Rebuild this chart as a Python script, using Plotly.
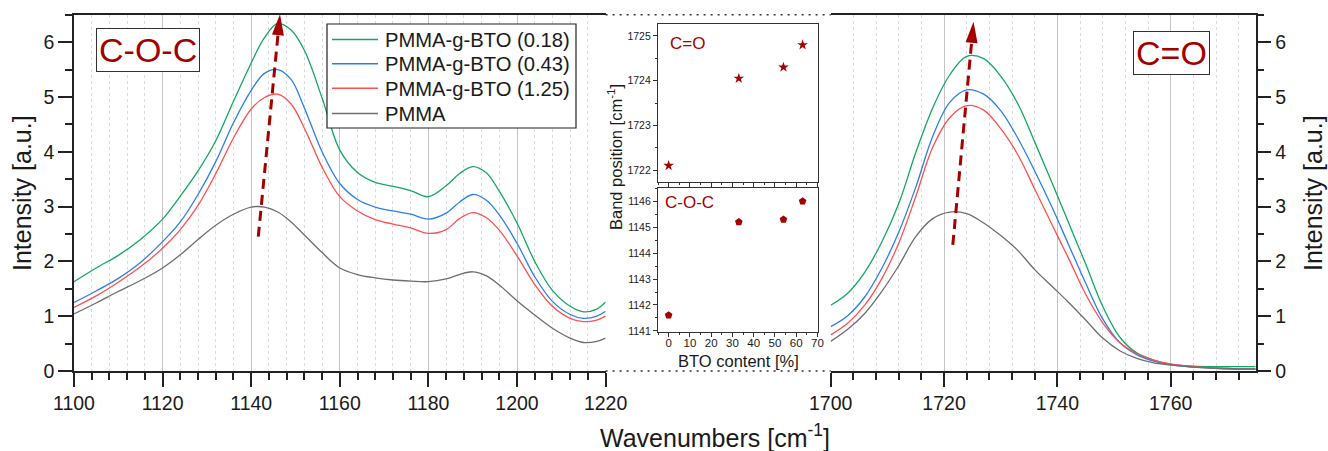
import plotly.graph_objects as go

W, H = 1328, 451
FONT = "Liberation Sans, Arial, sans-serif"
DARKRED = "#a30000"

# ---------------- data ----------------
series_names = ["PMMA-g-BTO (0.18)", "PMMA-g-BTO (0.43)", "PMMA-g-BTO (1.25)", "PMMA"]
series_colors = ["#12a863", "#2a7ff0", "#ff4f4f", "#6e6e6e"]

x_coc = [1100, 1105, 1110, 1115, 1120, 1124, 1128, 1132, 1136, 1140, 1143, 1146, 1149,
         1152, 1156, 1160, 1164, 1168, 1172, 1176, 1180, 1184, 1187, 1190, 1193, 1196,
         1200, 1204, 1208, 1212, 1215, 1218, 1220]
coc_018 = [1.63, 1.88, 2.11, 2.40, 2.77, 3.19, 3.65, 4.20, 4.92, 5.62, 6.08, 6.34, 6.22,
           5.85, 4.98, 4.03, 3.62, 3.44, 3.37, 3.29, 3.18, 3.38, 3.60, 3.73, 3.62, 3.28,
           2.70, 2.00, 1.47, 1.18, 1.08, 1.13, 1.26]
coc_043 = [1.25, 1.46, 1.69, 1.98, 2.36, 2.72, 3.22, 3.82, 4.53, 5.12, 5.43, 5.50, 5.32,
           4.80, 4.00, 3.42, 3.13, 2.99, 2.92, 2.86, 2.77, 2.88, 3.08, 3.22, 3.12, 2.85,
           2.33, 1.72, 1.27, 1.03, 0.96, 1.00, 1.09]
coc_125 = [1.16, 1.37, 1.62, 1.90, 2.24, 2.58, 3.02, 3.60, 4.25, 4.78, 4.99, 5.05, 4.87,
           4.43, 3.72, 3.18, 2.92, 2.76, 2.68, 2.61, 2.51, 2.58, 2.78, 2.89, 2.80, 2.57,
           2.10, 1.58, 1.18, 0.96, 0.90, 0.93, 1.00]
coc_pmma = [1.04, 1.24, 1.45, 1.65, 1.88, 2.12, 2.40, 2.66, 2.86, 2.99, 2.99, 2.90, 2.72,
            2.48, 2.16, 1.88, 1.76, 1.70, 1.66, 1.64, 1.63, 1.68, 1.76, 1.81, 1.74, 1.57,
            1.28, 1.02, 0.78, 0.60, 0.52, 0.54, 0.60]

x_co = [1700, 1703, 1706, 1709, 1712, 1715, 1718, 1721, 1724, 1727, 1730, 1733, 1736,
        1739, 1742, 1745, 1748, 1751, 1754, 1757, 1760, 1764, 1768, 1772, 1775]
co_018 = [1.20, 1.42, 1.80, 2.35, 3.05, 3.98, 4.80, 5.40, 5.74, 5.70, 5.38, 4.88, 4.18,
          3.45, 2.70, 1.95, 1.18, 0.62, 0.33, 0.20, 0.12, 0.09, 0.08, 0.08, 0.08]
co_043 = [0.81, 1.01, 1.35, 1.87, 2.53, 3.35, 4.28, 4.90, 5.13, 5.05, 4.75, 4.25, 3.65,
          3.00, 2.30, 1.60, 0.95, 0.52, 0.30, 0.18, 0.11, 0.07, 0.05, 0.04, 0.04]
co_125 = [0.66, 0.87, 1.20, 1.68, 2.33, 3.18, 4.08, 4.62, 4.84, 4.76, 4.42, 3.95, 3.32,
          2.68, 2.05, 1.40, 0.88, 0.52, 0.32, 0.20, 0.13, 0.08, 0.05, 0.03, 0.03]
co_pmma = [0.54, 0.76, 1.05, 1.45, 1.92, 2.45, 2.78, 2.90, 2.87, 2.70, 2.47, 2.20, 1.85,
           1.55, 1.25, 0.93, 0.60, 0.37, 0.23, 0.15, 0.11, 0.07, 0.05, 0.04, 0.04]

bto_content = [0, 33, 54, 63]
band_co = [1722.1, 1724.05, 1724.3, 1724.8]
band_coc = [1141.6, 1145.2, 1145.3, 1146.0]

# arrows (data coords: start, tip)
arrow_coc = ((1141.6, 2.45), (1146.5, 6.51))
arrow_co = ((1721.55, 2.30), (1725.2, 6.37))

# ---------------- layout geometry (pixels) ----------------
def fx(px):
    return px / W

def fy(py):
    return 1 - py / H

L_X = (74.0, 605.6)
R_X = (830.7, 1255.7)
M_Y = (14.7, 371.0)     # top, bottom pixel
IN_X = (658.0, 817.5)
IN_T = (24.3, 181.7)
IN_B = (188.3, 331.7)

L_RANGE = [1100, 1220]
R_RANGE = [1700, 1775]
Y_RANGE = [0, 6.5]

fig = go.Figure()

left_vals = [coc_018, coc_043, coc_125, coc_pmma]
right_vals = [co_018, co_043, co_125, co_pmma]
for name, col, lv, rv in zip(series_names, series_colors, left_vals, right_vals):
    fig.add_trace(go.Scatter(x=x_coc, y=lv, mode="lines", name=name, legendgroup=name,
                             showlegend=False,
                             line=dict(color=col, width=1.3, shape="spline", smoothing=1.0),
                             xaxis="x", yaxis="y"))
    fig.add_trace(go.Scatter(x=x_co, y=rv, mode="lines", name=name, legendgroup=name,
                             showlegend=False,
                             line=dict(color=col, width=1.3, shape="spline", smoothing=1.0),
                             xaxis="x2", yaxis="y2"))

fig.add_trace(go.Scatter(x=bto_content, y=band_co, mode="markers", showlegend=False,
                         marker=dict(symbol="star", size=8, color=DARKRED),
                         xaxis="x3", yaxis="y3"))
fig.add_trace(go.Scatter(x=bto_content, y=band_coc, mode="markers", showlegend=False,
                         marker=dict(symbol="pentagon", size=8, color=DARKRED),
                         xaxis="x4", yaxis="y4"))

axis_common = dict(showline=True, linecolor="#222", linewidth=1.5, zeroline=False,
                   automargin=False,
                   ticks="outside", tickcolor="#222", tickwidth=1.5,
                   tickfont=dict(size=19.5, color="#1a1a1a", family=FONT))

def main_x(dom, rng):
    return dict(axis_common, domain=[fx(dom[0]), fx(dom[1])], range=rng, dtick=20, tick0=rng[0],
                ticklen=14, mirror=True, showgrid=True, gridcolor="#c4c4c4", gridwidth=1.2,
                minor=dict(dtick=4, tick0=rng[0], ticks="outside", ticklen=7, tickwidth=1.5,
                           tickcolor="#222", showgrid=True, gridcolor="#dcdcdc",
                           griddash="3px,3px", gridwidth=1))

def main_y(anchor, side):
    return dict(axis_common, domain=[fy(M_Y[1]), fy(M_Y[0])], range=Y_RANGE, dtick=1, tick0=0,
                ticklen=14, showgrid=False, anchor=anchor, side=side,
                minor=dict(dtick=0.5, ticks="outside", ticklen=7, tickwidth=1.5, tickcolor="#222",
                           showgrid=False))

inset_common = dict(showline=True, linecolor="#333", linewidth=1.2, mirror=True, zeroline=False,
                    automargin=False,
                    showgrid=False, ticks="outside", ticklen=4, tickwidth=1, tickcolor="#333")

fig.update_layout(
    width=W, height=H, margin=dict(l=0, r=0, t=0, b=0, autoexpand=False),
    paper_bgcolor="white", plot_bgcolor="rgba(0,0,0,0)",
    font=dict(family=FONT, color="#1a1a1a"),
    showlegend=False,
    xaxis=dict(main_x(L_X, L_RANGE), anchor="y"),
    yaxis=main_y("x", "left"),
    xaxis2=dict(main_x(R_X, R_RANGE), anchor="y2"),
    yaxis2=main_y("x2", "right"),
    xaxis3=dict(inset_common, domain=[fx(IN_X[0]), fx(IN_X[1])], anchor="y3", range=[-5, 70],
                dtick=10, tick0=0, showticklabels=False,
                minor=dict(dtick=5, ticks="outside", ticklen=2, tickcolor="#333")),
    yaxis3=dict(inset_common, domain=[fy(IN_T[1]), fy(IN_T[0])], anchor="x3",
                range=[1721.74, 1725.26], dtick=1, tick0=1722,
                tickfont=dict(size=10.5, color="#1a1a1a"),
                minor=dict(dtick=0.5, ticks="outside", ticklen=2, tickcolor="#333")),
    xaxis4=dict(inset_common, domain=[fx(IN_X[0]), fx(IN_X[1])], anchor="y4", range=[-5, 70],
                dtick=10, tick0=0, tickfont=dict(size=11.5, color="#1a1a1a"),
                ticklabelstandoff=-4,
                minor=dict(dtick=5, ticks="outside", ticklen=2, tickcolor="#333")),
    yaxis4=dict(inset_common, domain=[fy(IN_B[1]), fy(IN_B[0])], anchor="x4",
                range=[1140.97, 1146.5], dtick=1, tick0=1141,
                tickfont=dict(size=10.5, color="#1a1a1a"),
                minor=dict(dtick=0.5, ticks="outside", ticklen=2, tickcolor="#333")),
)

# dotted frame in gap
for py in (M_Y[0], M_Y[1]):
    fig.add_shape(type="line", xref="paper", yref="paper", x0=fx(L_X[1]), x1=fx(R_X[0]),
                  y0=fy(py), y1=fy(py), line=dict(color="#333", width=1.5, dash="2px,5px"))

# arrows
def to_px(xv, yv, xdom, xr):
    px = xdom[0] + (xv - xr[0]) / (xr[1] - xr[0]) * (xdom[1] - xdom[0])
    py = M_Y[1] - (yv - Y_RANGE[0]) / (Y_RANGE[1] - Y_RANGE[0]) * (M_Y[1] - M_Y[0])
    return px, py

def add_arrow(arrow, xdom, xr, head_len=21, head_w=12):
    (sx, sy), (tx, ty) = arrow
    p0 = to_px(sx, sy, xdom, xr)
    p1 = to_px(tx, ty, xdom, xr)
    dx, dy = p1[0] - p0[0], p1[1] - p0[1]
    n = (dx * dx + dy * dy) ** 0.5
    ux, uy = dx / n, dy / n
    bx, by = p1[0] - head_len * ux, p1[1] - head_len * uy
    nx, ny = -uy, ux
    fig.add_shape(type="line", xref="paper", yref="paper",
                  x0=fx(p0[0]), y0=fy(p0[1]), x1=fx(bx + 2 * ux), y1=fy(by + 2 * uy),
                  line=dict(color=DARKRED, width=3, dash="10px,6px"))
    a = (bx + nx * head_w / 2, by + ny * head_w / 2)
    b = (bx - nx * head_w / 2, by - ny * head_w / 2)
    path = "M {:.5f},{:.5f} L {:.5f},{:.5f} L {:.5f},{:.5f} Z".format(
        fx(p1[0]), fy(p1[1]), fx(a[0]), fy(a[1]), fx(b[0]), fy(b[1]))
    fig.add_shape(type="path", xref="paper", yref="paper", path=path,
                  fillcolor=DARKRED, line=dict(width=0))

add_arrow(arrow_coc, L_X, L_RANGE)
add_arrow(arrow_co, R_X, R_RANGE)

def ann(text, px, py, size, color="#1a1a1a", angle=0, xanchor="center", **kw):
    fig.add_annotation(text=text, x=fx(px), y=fy(py), xref="paper", yref="paper",
                       showarrow=False, xanchor=xanchor, yanchor="middle",
                       textangle=angle, font=dict(size=size, color=color, family=FONT), **kw)

# legend box (drawn manually to match the reference spacing)
LEG_BOX = (327, 24, 576, 128)
LEG_ROWS = [39.5, 63.8, 88.3, 113.5]
fig.add_shape(type="rect", xref="paper", yref="paper",
              x0=fx(LEG_BOX[0]), x1=fx(LEG_BOX[2]), y0=fy(LEG_BOX[3]), y1=fy(LEG_BOX[1]),
              line=dict(color="#222", width=1.2), fillcolor="white", layer="above")
for name, col, ry in zip(series_names, series_colors, LEG_ROWS):
    fig.add_shape(type="line", xref="paper", yref="paper", x0=fx(332), x1=fx(378),
                  y0=fy(ry), y1=fy(ry), line=dict(color=col, width=1.6))
    ann(name, 383, ry + 0.5, 20.2, xanchor="left")

ann("C-O-C", 148, 50, 34, DARKRED, bordercolor="#333", borderwidth=1, borderpad=2, bgcolor="white")
ann("C=O", 1171.7, 53, 34, DARKRED, bordercolor="#333", borderwidth=1, borderpad=2, bgcolor="white")
ann("Intensity [a.u.]", 22, 193, 25, angle=-90)
ann("Intensity [a.u.]", 1313, 193, 25, angle=-90)
ann("Wavenumbers [cm<sup>-1</sup>]", 715, 436, 25)
ann("Band position [cm<sup>-1</sup>]", 615, 157, 16.5, angle=-90)
ann("BTO content [%]", 738, 361, 16.5)
ann("C=O", 687.5, 44, 17, DARKRED)
ann("C-O-C", 689, 202.5, 17, DARKRED)

fig.write_html("out.html")
